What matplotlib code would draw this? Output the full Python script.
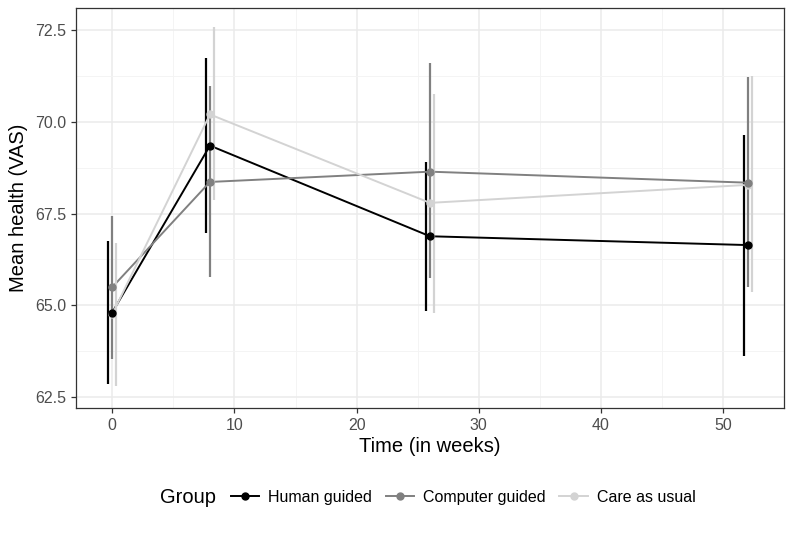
import matplotlib.pyplot as plt
from matplotlib.lines import Line2D
import numpy as np

plt.rcParams['font.family'] = ['Liberation Sans', 'DejaVu Sans']

weeks = [0, 8, 26, 52]
groups = ['Human guided', 'Computer guided', 'Care as usual']
colors = ['#000000', '#808080', '#d3d3d3']

human_mean = [64.80, 69.35, 66.88, 66.64]
human_low = [62.86, 66.97, 64.83, 63.62]
human_high = [66.75, 71.73, 68.91, 69.65]

computer_mean = [65.49, 68.36, 68.64, 68.34]
computer_low = [63.54, 65.76, 65.73, 65.49]
computer_high = [67.43, 70.97, 71.60, 71.21]

care_mean = [64.75, 70.20, 67.79, 68.28]
care_low = [62.80, 67.87, 64.80, 65.35]
care_high = [66.70, 72.58, 70.75, 71.24]

means = [human_mean, computer_mean, care_mean]
lows = [human_low, computer_low, care_low]
highs = [human_high, computer_high, care_high]
dodge = [-1 / 3, 0, 1 / 3]

fig = plt.figure(figsize=(8, 5.33), dpi=100)
ax = fig.add_axes([0.095, 0.2345, 0.885, 0.7505])

x = np.array(weeks, dtype=float)
for g, col, m, lo, hi, d in zip(groups, colors, means, lows, highs, dodge):
    ax.plot(x, m, color=col, linewidth=1.4, zorder=3)
    ax.vlines(x + d, lo, hi, color=col, linewidth=1.6, zorder=3)
# points: human drawn last so it sits on top
for k in [2, 1, 0]:
    ax.plot(x, means[k], 'o', color=colors[k], markersize=5, zorder=4)

ax.set_xlim(-2.96, 54.97)
ax.set_ylim(62.2, 73.1)
ax.set_xticks([0, 10, 20, 30, 40, 50])
ax.set_xticks([5, 15, 25, 35, 45], minor=True)
ax.set_yticks([62.5, 65.0, 67.5, 70.0, 72.5])
ax.set_yticklabels(['62.5', '65.0', '67.5', '70.0', '72.5'])
ax.set_yticks([63.75, 66.25, 68.75, 71.25], minor=True)

ax.grid(which='major', color='#ebebeb', linewidth=1.1, zorder=0)
ax.grid(which='minor', color='#f3f3f3', linewidth=0.6, zorder=0)
ax.set_axisbelow(True)
for s in ax.spines.values():
    s.set_color('#333333')
    s.set_linewidth(0.9)
ax.tick_params(which='major', length=3.5, color='#333333', labelcolor='#4d4d4d',
               labelsize=11.5, width=0.9)
ax.tick_params(which='minor', length=0)

ax.set_xlabel('Time (in weeks)', fontsize=14.5, labelpad=3)
ax.set_ylabel('Mean health (VAS)', fontsize=14.5, labelpad=5)

handles = [Line2D([0], [0], color=c, linewidth=1.4, marker='o', markersize=5)
           for c in colors]
fig.text(0.2, 0.067, 'Group', fontsize=14.5, ha='left', va='center')
fig.legend(handles, groups, loc='center', bbox_to_anchor=(0.579, 0.067), ncol=3,
           frameon=False, fontsize=11.5, handlelength=1.8, handletextpad=0.55,
           columnspacing=0.85)

fig.savefig('out.png', dpi=100)
